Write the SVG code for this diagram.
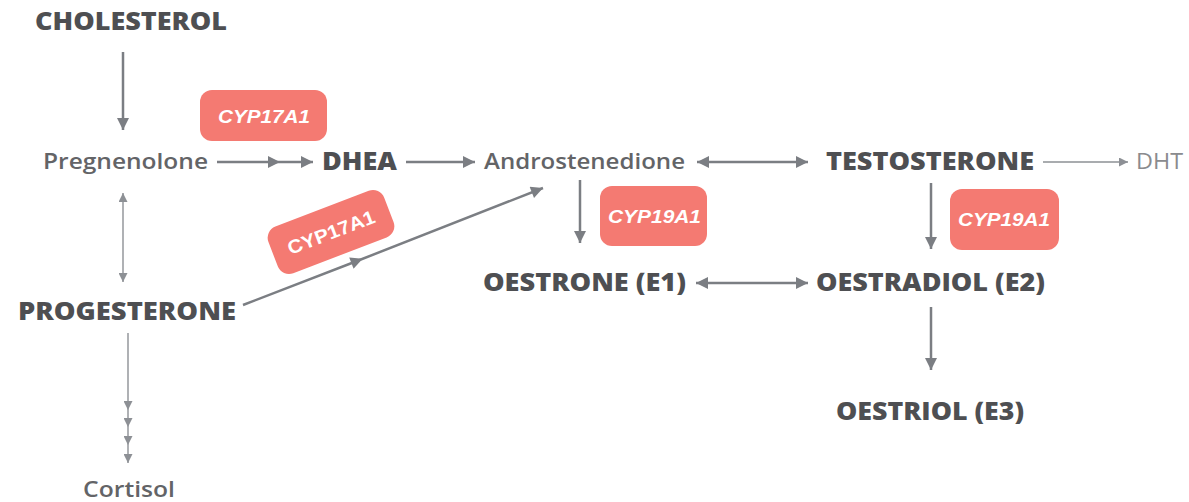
<svg xmlns="http://www.w3.org/2000/svg" width="1189" height="502" viewBox="0 0 1189 502">
<style>
.b{font-family:"Open Sans","Liberation Sans",sans-serif;font-weight:800;fill:#4e4f52;font-size:24px}
.r{font-family:"Open Sans","Liberation Sans",sans-serif;font-weight:600;fill:#636467;font-size:21px}
.l{font-family:"Open Sans","Liberation Sans",sans-serif;font-weight:400;fill:#8a8b8e;font-size:21px}
.enz{fill:#f47a72}
.et{font-family:"Liberation Sans",Arial,sans-serif;font-weight:700;font-style:italic;fill:#fff;font-size:19px}
.a{stroke:#7b7e83;stroke-width:2.5;fill:none}
.t{stroke:#8d9095;stroke-width:1.4;fill:none}
</style>
<defs>
<marker id="h" viewBox="0 0 12 12" refX="12" refY="6" markerWidth="13" markerHeight="12" markerUnits="userSpaceOnUse" orient="auto"><path d="M0,0L12,6L0,12z" fill="#7b7e83"/></marker>
<marker id="hs" viewBox="0 0 12 12" refX="0" refY="6" markerWidth="13" markerHeight="12" markerUnits="userSpaceOnUse" orient="auto"><path d="M12,0L0,6L12,12z" fill="#7b7e83"/></marker>
<marker id="hm" viewBox="0 0 12 12" refX="6" refY="6" markerWidth="13" markerHeight="12" markerUnits="userSpaceOnUse" orient="auto"><path d="M0,0L12,6L0,12z" fill="#7b7e83"/></marker>
<marker id="th" viewBox="0 0 10 10" refX="10" refY="5" markerWidth="9" markerHeight="9" markerUnits="userSpaceOnUse" orient="auto"><path d="M0,0L10,5L0,10z" fill="#8d9095"/></marker>
<marker id="ths" viewBox="0 0 10 10" refX="0" refY="5" markerWidth="9" markerHeight="9" markerUnits="userSpaceOnUse" orient="auto"><path d="M10,0L0,5L10,10z" fill="#8d9095"/></marker>
<marker id="thm" viewBox="0 0 10 10" refX="10" refY="5" markerWidth="9" markerHeight="9" markerUnits="userSpaceOnUse" orient="auto"><path d="M0,0L10,5L0,10z" fill="#8d9095"/></marker>
</defs>
<rect width="1189" height="502" fill="#fff"/>
<g id="connectors">
<line class="a" x1="123" y1="52" x2="123" y2="130" marker-end="url(#h)"/>
<polyline class="a" points="217,162 274,162 313,162" marker-mid="url(#hm)" marker-end="url(#h)"/>
<line class="a" x1="406" y1="162" x2="475" y2="162" marker-end="url(#h)"/>
<line class="a" x1="697" y1="162" x2="808" y2="162" marker-start="url(#hs)" marker-end="url(#h)"/>
<line class="t" x1="1043" y1="162" x2="1128" y2="162" marker-end="url(#th)"/>
<line class="a" x1="580" y1="180" x2="580" y2="243" marker-end="url(#h)"/>
<line class="a" x1="696" y1="283" x2="808" y2="283" marker-start="url(#hs)" marker-end="url(#h)"/>
<line class="a" x1="931" y1="183" x2="931" y2="249" marker-end="url(#h)"/>
<line class="a" x1="931" y1="307" x2="931" y2="370" marker-end="url(#h)"/>
<line class="t" x1="123" y1="193" x2="123" y2="282" marker-start="url(#ths)" marker-end="url(#th)"/>
<polyline class="a" points="243,305 357,261 543,188" marker-mid="url(#hm)" marker-end="url(#h)"/>
<polyline class="t" points="128,333 128,410 128,427 128,445 128,463" marker-mid="url(#thm)" marker-end="url(#th)"/>
</g>
<g id="cholesterol"><text class="b" x="35" y="30" textLength="192" lengthAdjust="spacingAndGlyphs">CHOLESTEROL</text></g>
<g id="pregnenolone"><text class="r" x="43" y="169" textLength="165" lengthAdjust="spacingAndGlyphs">Pregnenolone</text></g>
<g id="dhea"><text class="b" x="322" y="170" textLength="75" lengthAdjust="spacingAndGlyphs">DHEA</text></g>
<g id="androstenedione"><text class="r" x="484" y="169" textLength="201" lengthAdjust="spacingAndGlyphs">Androstenedione</text></g>
<g id="testosterone"><text class="b" x="826" y="170" textLength="208" lengthAdjust="spacingAndGlyphs">TESTOSTERONE</text></g>
<g id="dht"><text class="l" x="1136" y="169" textLength="47" lengthAdjust="spacingAndGlyphs">DHT</text></g>
<g id="oestrone"><text class="b" x="483" y="291" textLength="203" lengthAdjust="spacingAndGlyphs">OESTRONE (E1)</text></g>
<g id="oestradiol"><text class="b" x="816" y="291" textLength="229" lengthAdjust="spacingAndGlyphs">OESTRADIOL (E2)</text></g>
<g id="oestriol"><text class="b" x="836" y="420" textLength="188" lengthAdjust="spacingAndGlyphs">OESTRIOL (E3)</text></g>
<g id="progesterone"><text class="b" x="18" y="320" textLength="218" lengthAdjust="spacingAndGlyphs">PROGESTERONE</text></g>
<g id="cortisol"><text class="r" x="83" y="497" textLength="92" lengthAdjust="spacingAndGlyphs">Cortisol</text></g>
<g id="enz-cyp17a1-top"><rect class="enz" x="200" y="90" width="127" height="51" rx="12"/><text class="et" x="218" y="123" textLength="92" lengthAdjust="spacingAndGlyphs">CYP17A1</text></g>
<g id="enz-cyp17a1-diag" transform="translate(331,232) rotate(-21)"><rect class="enz" x="-62" y="-25" width="124" height="50" rx="12"/><text class="et" x="-46" y="7" textLength="92" lengthAdjust="spacingAndGlyphs" style="font-style:normal">CYP17A1</text></g>
<g id="enz-cyp19a1-1"><rect class="enz" x="600" y="186" width="107" height="60" rx="12"/><text class="et" x="608" y="223" textLength="93" lengthAdjust="spacingAndGlyphs">CYP19A1</text></g>
<g id="enz-cyp19a1-2"><rect class="enz" x="950" y="189" width="109" height="61" rx="12"/><text class="et" x="958" y="226" textLength="92" lengthAdjust="spacingAndGlyphs">CYP19A1</text></g>
</svg>
